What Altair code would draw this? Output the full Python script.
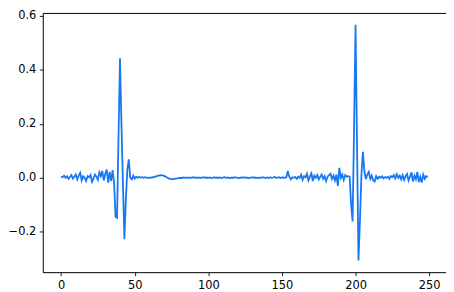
import altair as alt
import pandas as pd

# x = 0..36 : low-level noise before the first burst
seg_a = [0.005, 0.002, 0.008, 0.0, 0.006, -0.004, 0.003, 0.01, -0.003, 0.004,
         0.012, -0.006, 0.008, 0.018, -0.01, 0.005, 0.0, -0.012, 0.006, 0.002,
         0.01, -0.015, -0.002, 0.012, 0.004, -0.008, 0.02, 0.006, 0.026, -0.01,
         0.015, 0.03, -0.018, 0.022, -0.012, 0.028, -0.02]
# x = 37..47 : first burst
spike1 = [-0.145, -0.148, 0.15, 0.443, 0.2, -0.02, -0.228, -0.08, 0.03, 0.068, 0.0]
# x = 48..150 : nearly flat section
flat = [-0.006, 0.008, -0.003, 0.004, 0.0, 0.003, 0.001, 0.002, 0.0, 0.002,
        0.001, -0.001, 0.001, 0.0, 0.002, 0.002, 0.004, 0.006, 0.008, 0.009,
        0.01, 0.009, 0.007, 0.004, 0.001, -0.002, -0.004, -0.005, -0.005, -0.004,
        -0.003, -0.002, -0.001, 0.0, -0.001, 0.001, 0.0, 0.001, -0.001, 0.001,
        0.0, 0.001, 0.002, 0.0, 0.001, -0.001, 0.001, 0.0, 0.001, 0.002,
        0.0, 0.001, 0.0, 0.001, -0.001, 0.0, 0.002, 0.0, 0.001, 0.0,
        0.001, -0.001, 0.001, 0.002, 0.0, 0.001, -0.001, 0.0, 0.001, 0.0,
        0.002, 0.001, 0.0, -0.001, 0.001, 0.0, 0.002, 0.0, 0.001, -0.001,
        0.0, 0.001, 0.002, 0.0, 0.001, 0.0, -0.001, 0.001, 0.0, 0.002,
        0.001, 0.0, 0.001, -0.001, 0.002, 0.0, 0.001, 0.003, 0.0, 0.001,
        0.002, -0.001, 0.001]
# x = 151..195 : noise before the second burst
seg_b = [0.001, 0.0, 0.002, 0.025, 0.004, -0.006, 0.002, 0.0, 0.003, -0.004,
         0.004, 0.0, 0.012, -0.008, 0.006, 0.002, 0.015, -0.01, 0.004, 0.016,
         -0.012, 0.008, 0.0, 0.01, -0.006, 0.003, 0.012, -0.004, 0.006, -0.012,
         0.004, 0.01, 0.015, -0.005, 0.008, -0.01, 0.012, -0.03, 0.037, 0.0,
         0.012, -0.008, 0.01, 0.004, 0.006]
# x = 196..206 : second burst
spike2 = [0.004, -0.1, -0.162, 0.18, 0.567, 0.13, -0.306, -0.16, 0.01, 0.096, 0.025]
# x = 207..249 : trailing noise
seg_c = [-0.005, 0.012, 0.022, -0.004, 0.008, -0.01, -0.014, 0.006, -0.004, 0.004,
         0.0, 0.005, -0.002, 0.003, 0.0, 0.004, -0.004, 0.006, 0.002, 0.01,
         -0.002, 0.013, 0.0, 0.008, -0.006, 0.01, -0.008, 0.006, 0.014, -0.01,
         0.004, 0.02, -0.014, 0.008, -0.006, 0.022, -0.016, 0.004, -0.018, 0.012,
         -0.004, 0.006, 0.002]

x_ticks = [0, 50, 100, 150, 200, 250]
y_ticks = [-0.2, 0.0, 0.2, 0.4, 0.6]

values = seg_a + spike1 + flat + seg_b + spike2 + seg_c
df = pd.DataFrame({"x": list(range(len(values))), "y": values})

n = len(values) - 1
xpad = 0.05 * n
ymin, ymax = min(values), max(values)
ypad = 0.05 * (ymax - ymin)

axis_common = dict(
    title=None, grid=False, domain=False,
    tickColor="#000", tickSize=3.5, tickWidth=0.9,
    labelColor="#000", labelFont="DejaVu Sans", labelFontSize=11.5,
    labelPadding=3.5,
)

chart = alt.Chart(df).mark_line(color="#1778f2", strokeWidth=1.8).encode(
    x=alt.X("x:Q",
            scale=alt.Scale(domain=[-xpad, n + xpad], nice=False, zero=False),
            axis=alt.Axis(values=x_ticks, format="d", **axis_common)),
    y=alt.Y("y:Q",
            scale=alt.Scale(domain=[ymin - ypad, ymax + ypad], nice=False, zero=False),
            axis=alt.Axis(values=y_ticks, format=".1f", **axis_common)),
).properties(
    width=406, height=261, padding=0
).configure_view(stroke="#000", strokeWidth=1)

chart.save("out.html", embed_options={"renderer": "svg", "actions": False})
